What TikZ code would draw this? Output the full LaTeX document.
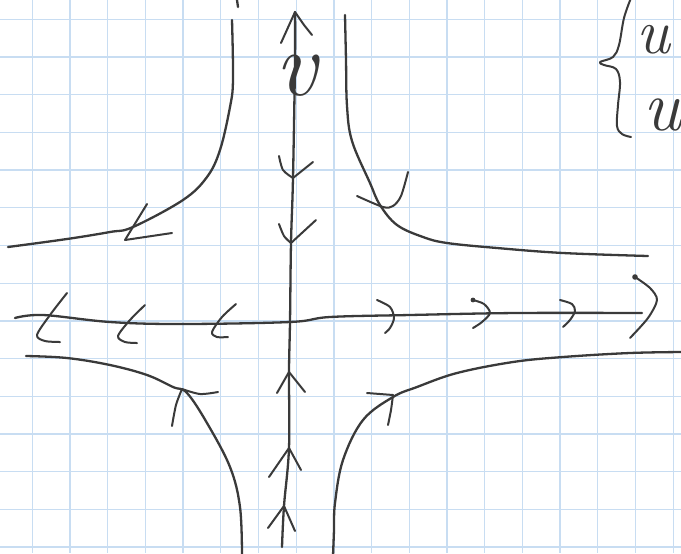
\documentclass[tikz,border=0pt]{standalone}
\usepackage{tikz}
\usepackage{fontspec}
\usetikzlibrary{calc}
\definecolor{gridblue}{RGB}{200,221,242}
\definecolor{ink}{RGB}{58,58,58}
\tikzstyle{gridline} = [draw=gridblue, line width=0.65pt]
\tikzstyle{orbit}    = [draw=ink, line width=1.15pt, line cap=round, line join=round]
\tikzstyle{barb}     = [draw=ink, line width=1.0pt, line cap=round, line join=round]
\tikzstyle{letter}   = [text=ink, inner sep=0pt, font=\itshape]

\begin{document}
\begin{tikzpicture}[x=0.5pt, y=-0.5pt]
  \useasboundingbox (0,0) rectangle (681,553);
  \clip (0,0) rectangle (681,553);
  \fill[white] (0,0) rectangle (681,553);

  % --- squared paper ---
  \foreach \k in {0,...,17}
    \draw[gridline] ({32.3+37.7*\k},0) -- ({32.3+37.7*\k},553);
  \foreach \k in {0,...,14}
    \draw[gridline] (0,{19.3+37.7*\k}) -- (681,{19.3+37.7*\k});

  % --- axes ---
  \coordinate (vtop) at (295,12);
  \coordinate (vbot) at (282,547);
  \coordinate (hleft) at (15,318);
  \coordinate (hright) at (642,313);
  \draw[orbit] plot[smooth, tension=0.6] coordinates {(vbot) (284,506) (289,448) (289,372)
      (290,322) (291,243) (293,178) (295,60) (vtop)};
  \draw[orbit] plot[smooth, tension=0.6] coordinates {(hleft) (43,315) (110,322) (180,324)
      (290,322) (330,317) (410,315) (517,313) (hright)};
  \draw[barb] (281,43) -- (vtop) -- (304,25) -- (312,35);
  \draw[barb] plot[smooth] coordinates {(635,277) (650,288) (657,300) (648,318) (630,338)};
  \fill[ink] (635,277) circle (1.4pt);

  % --- axis label ---
  \node (vlbl) [letter, font=\itshape\fontsize{46}{50}\selectfont] at (296,76) {v};

  % --- hyperbolas ---
  \draw[orbit] (237,0) -- (238,7);
  \draw[orbit] plot[smooth, tension=0.6] coordinates {(232,20) (233,80) (230,107) (220,150)
      (207,177) (183,200) (133,227) (110,232) (67,239) (8,247)};
  \draw[orbit] plot[smooth, tension=0.6] coordinates {(345,15) (346,60) (347,106) (352,141)
      (370,183) (380,205) (397,225) (423,237) (447,243) (497,248) (563,253) (648,256)};
  \draw[orbit] plot[smooth, tension=0.6] coordinates {(26,356) (67,358) (110,365) (147,375)
      (173,387) (187,393) (207,423) (230,467) (240,507) (242,556)};
  \draw[orbit] plot[smooth, tension=0.6] coordinates {(333,556) (334,530) (335,503) (343,460)
      (363,420) (393,397) (417,387) (457,373) (513,362) (563,357) (630,353) (684,352)};

  % --- flow marks on the v axis ---
  \draw[barb] plot[smooth] coordinates {(279,156) (283,170) (293,178)} -- (313,162);
  \draw[barb] plot[smooth] coordinates {(279,224) (284,236) (291,243)} -- (316,220);
  \draw[barb] (277,393) -- (289,372) -- (305,392);
  \draw[barb] (269,477) -- (289,448) -- (301,470);
  \draw[barb] (268,528) -- (284,506) -- (295,531);

  % --- flow marks on the u axis ---
  \draw[barb] plot[smooth] coordinates {(67,293) (50,315) (37,335) (45,341) (60,342)};
  \draw[barb] plot[smooth] coordinates {(145,305) (130,320) (118,336) (125,342) (137,343)};
  \draw[barb] plot[smooth] coordinates {(236,304) (222,317) (212,332) (217,337) (228,337)};
  \draw[barb] plot[smooth] coordinates {(377,300) (390,307) (394,318) (390,328) (385,333)};
  \draw[barb] plot[smooth] coordinates {(473,300) (484,304) (490,313) (482,322) (473,328)};
  \fill[ink] (473,300) circle (1.2pt);
  \draw[barb] plot[smooth] coordinates {(560,300) (572,304) (575,311) (570,320) (563,327)};

  % --- flow marks on the hyperbolas ---
  \draw[barb] (147,204) -- (125,240) -- (172,233);
  \draw[barb] plot[smooth] coordinates {(357,196) (383,207) (393,206) (401,196) (408,172)};
  \draw[barb] plot[smooth] coordinates {(172,426) (176,405) (182,389)};
  \draw[barb] plot[smooth] coordinates {(182,389) (200,394) (218,392)};
  \draw[barb] plot[smooth] coordinates {(367,393) (393,395)};
  \draw[barb] plot[smooth] coordinates {(393,395) (391,410) (388,425)};

  % --- system brace (cut off at the edge) ---
  \draw[barb] plot[smooth, tension=0.6] coordinates {(631,-2) (624,18) (619,45) (613,57) (600,62)
      (604,65) (616,69) (620,82) (618,105) (617,126) (622,134) (631,137)};
  \node (ulbla) [letter, font=\itshape\fontsize{32}{36}\selectfont, anchor=base west] at (636,53) {u};
  \node (ulblb) [letter, font=\itshape\fontsize{36}{40}\selectfont, anchor=base west] at (643,130) {u};
\end{tikzpicture}
\end{document}
